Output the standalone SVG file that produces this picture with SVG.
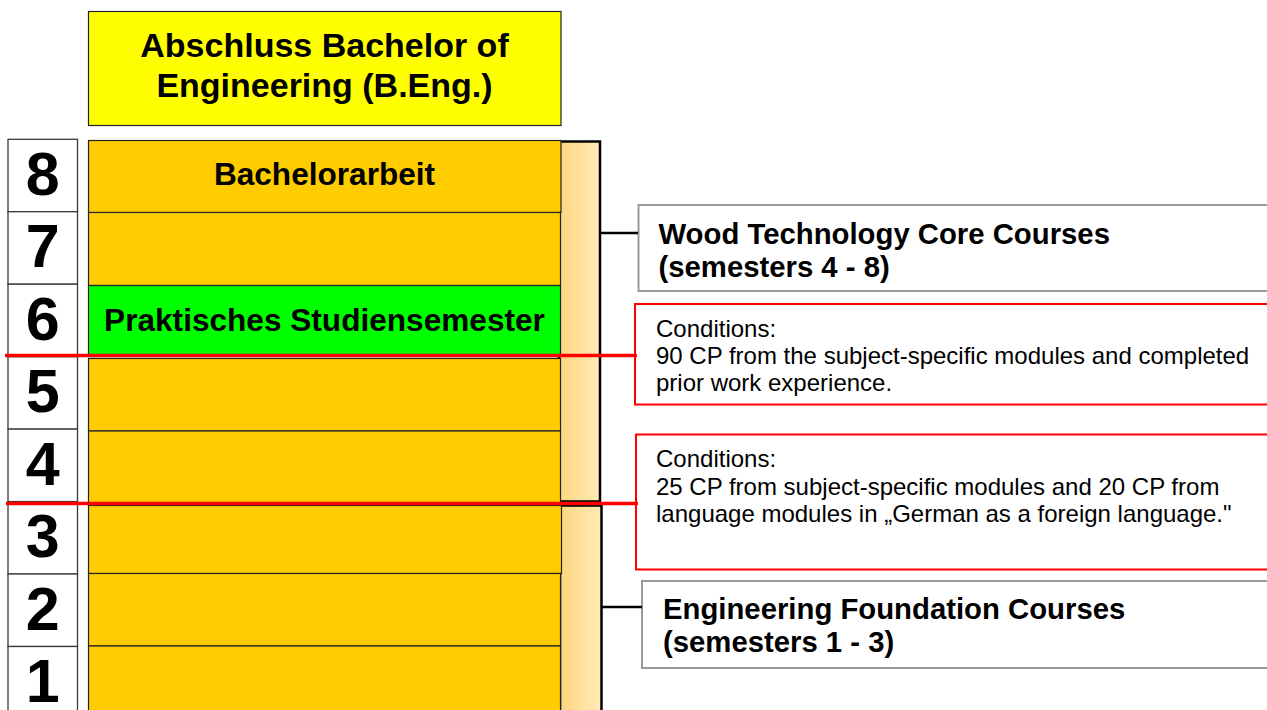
<svg xmlns="http://www.w3.org/2000/svg" width="1267" height="710" viewBox="0 0 1267 710">
<style>
.num{fill:#fff;stroke:#3a3a3a;stroke-width:1.3}
.numt{font-family:"Liberation Sans",Arial,sans-serif;font-weight:bold;font-size:61px;text-anchor:middle;fill:#000}
.bar{fill:#FFCC00;stroke:#222;stroke-width:1.2}
.green{fill:#00FF00;stroke:#222;stroke-width:1.2}
.bart{font-family:"Liberation Sans",Arial,sans-serif;font-weight:bold;font-size:31.6px;text-anchor:middle;fill:#000}
.title{font-family:"Liberation Sans",Arial,sans-serif;font-weight:bold;font-size:34px;text-anchor:middle;fill:#000}
.gbox{fill:#fff;stroke:#999;stroke-width:2}
.rbox{fill:#fff;stroke:#FF0000;stroke-width:2}
.bt{font-family:"Liberation Sans",Arial,sans-serif;font-weight:bold;font-size:29.3px;fill:#000}
.ct{font-family:"Liberation Sans",Arial,sans-serif;font-size:24px;fill:#000}
.brk{fill:url(#beige);stroke:#000;stroke-width:2.5}
.conn{stroke:#000;stroke-width:2.5;fill:none}
.red{stroke:#FF0000;stroke-width:3.5;fill:none}
</style>
<defs>
<linearGradient id="beige" x1="0" y1="0" x2="1" y2="0">
<stop offset="0" stop-color="#FCD67E"/>
<stop offset="1" stop-color="#FFEBB8"/>
</linearGradient>
</defs>
<rect width="1267" height="710" fill="#fff"/>

<g id="title">
<rect x="88.5" y="11.5" width="472.5" height="114" fill="#FFFF00" stroke="#222" stroke-width="1.2"/>
<text class="title" x="324.5" y="57">Abschluss Bachelor of</text>
<text class="title" x="324.5" y="97">Engineering (B.Eng.)</text>
</g>

<g id="brackets">
<rect class="brk" x="559" y="141.5" width="41" height="360"/>
<rect class="brk" x="560" y="505.5" width="41.5" height="220"/>
</g>

<g id="semester-numbers">
<g id="n8"><rect class="num" x="8" y="139.3" width="69.5" height="72.4"/><text class="numt" x="42.7" y="195">8</text></g>
<g id="n7"><rect class="num" x="8" y="211.7" width="69.5" height="72.5"/><text class="numt" x="42.7" y="267.4">7</text></g>
<g id="n6"><rect class="num" x="8" y="284.2" width="69.5" height="72.5"/><text class="numt" x="42.7" y="339.9">6</text></g>
<g id="n5"><rect class="num" x="8" y="356.7" width="69.5" height="72.4"/><text class="numt" x="42.7" y="412.4">5</text></g>
<g id="n4"><rect class="num" x="8" y="429.1" width="69.5" height="72.5"/><text class="numt" x="42.7" y="484.8">4</text></g>
<g id="n3"><rect class="num" x="8" y="501.6" width="69.5" height="72.4"/><text class="numt" x="42.7" y="557.3">3</text></g>
<g id="n2"><rect class="num" x="8" y="574" width="69.5" height="72.5"/><text class="numt" x="42.7" y="629.7">2</text></g>
<g id="n1"><rect class="num" x="8" y="646.5" width="69.5" height="72.5"/><text class="numt" x="42.7" y="702">1</text></g>
</g>

<g id="semester-bars">
<g id="s8"><rect class="bar" x="88.5" y="140.5" width="472.5" height="72"/><text class="bart" x="324.5" y="185">Bachelorarbeit</text></g>
<g id="s7"><rect class="bar" x="88.5" y="212.5" width="472" height="73"/></g>
<g id="s6"><rect class="green" x="88.5" y="285.5" width="472" height="71"/><text class="bart" x="324.5" y="331">Praktisches Studiensemester</text></g>
<g id="s5"><rect class="bar" x="88.5" y="358.5" width="472" height="72.5"/></g>
<g id="s4"><rect class="bar" x="88.5" y="431" width="472" height="73"/></g>
<g id="s3"><rect class="bar" x="88.5" y="505.5" width="473" height="68"/></g>
<g id="s2"><rect class="bar" x="88.5" y="573.5" width="472" height="72.5"/></g>
<g id="s1"><rect class="bar" x="88.5" y="646" width="472" height="75"/></g>
</g>

<g id="wood-core">
<rect class="gbox" x="638.5" y="205" width="640" height="86"/>
<text class="bt" x="658.5" y="243.5">Wood Technology Core Courses</text>
<text class="bt" x="658.5" y="277">(semesters 4 - 8)</text>
</g>

<g id="conditions-upper">
<rect class="rbox" x="635" y="304" width="645" height="100.5"/>
<text class="ct" x="656" y="337">Conditions:</text>
<text class="ct" x="656" y="364">90 CP from the subject-specific modules and completed</text>
<text class="ct" x="656" y="391">prior work experience.</text>
</g>

<g id="conditions-lower">
<rect class="rbox" x="636" y="434.5" width="645" height="135"/>
<text class="ct" x="656" y="467">Conditions:</text>
<text class="ct" x="656" y="494.5">25 CP from subject-specific modules and 20 CP from</text>
<text class="ct" x="656" y="522">language modules in „German as a foreign language."</text>
</g>

<g id="eng-foundation">
<rect class="gbox" x="642" y="581" width="640" height="87"/>
<text class="bt" x="663" y="619">Engineering Foundation Courses</text>
<text class="bt" x="663" y="652">(semesters 1 - 3)</text>
</g>

<g id="connectors">
<line class="conn" x1="600" y1="233" x2="638" y2="233"/>
<line class="conn" x1="601.5" y1="607" x2="642" y2="607"/>
<line class="red" x1="5" y1="355.5" x2="637" y2="355.5"/>
<line class="red" x1="6" y1="503.5" x2="638" y2="503.5"/>
</g>
</svg>
